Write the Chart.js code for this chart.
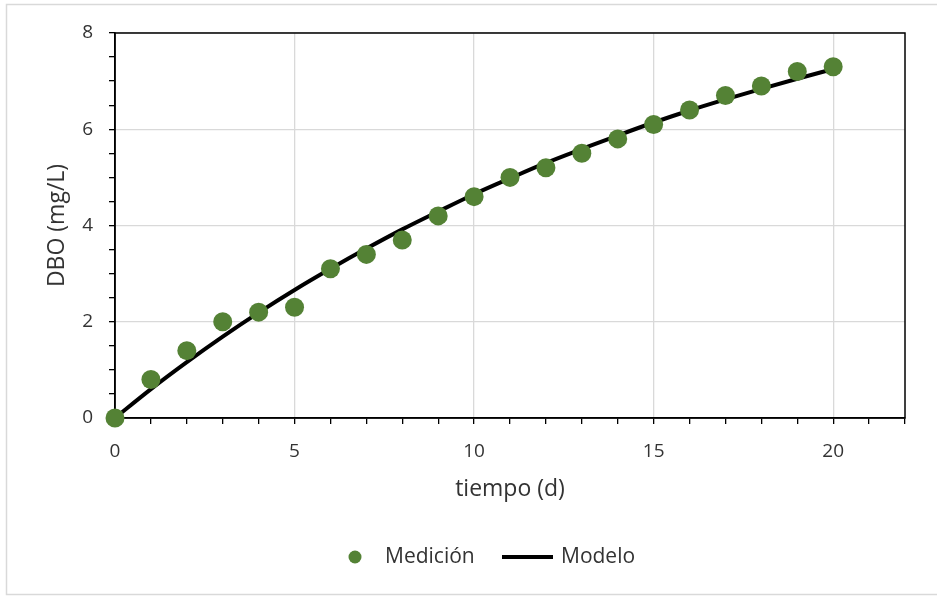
<!DOCTYPE html>
<html>
<head>
<meta charset="utf-8">
<script src="https://cdn.jsdelivr.net/npm/chart.js@4/dist/chart.umd.min.js"></script>
<style>
  html, body { margin: 0; padding: 0; background: #fff; }
  #wrap { width: 937px; height: 597px; }
</style>
</head>
<body>
<div id="wrap"><canvas id="dboChart" width="937" height="597"></canvas></div>
<script>
// Datos: días y DBO medida / modelada (mg/L)
const tiempo = [0, 1, 2, 3, 4, 5, 6, 7, 8, 9, 10, 11, 12, 13, 14, 15, 16, 17, 18, 19, 20];
const medicion = [0, 0.8, 1.4, 2.0, 2.2, 2.3, 3.1, 3.4, 3.7, 4.2, 4.6, 5.0, 5.2, 5.5, 5.8, 6.1, 6.4, 6.7, 6.9, 7.2, 7.3];
const modelo = [0, 0.6, 1.16, 1.69, 2.19, 2.66, 3.1, 3.52, 3.92, 4.29, 4.65, 4.98, 5.3, 5.59, 5.87, 6.14, 6.39, 6.62, 6.84, 7.05, 7.25];
const xLabels = [0, 5, 10, 15, 20];
const yLabels = [0, 2, 4, 6, 8];

const verde = '#548235';
const textColor = '#333333';
const fontFamily = '"Open Sans", "DejaVu Sans", sans-serif';

// Outer chart border (light grey)
const outerBorder = {
    id: 'outerBorder',
    beforeDraw(chart) {
        const ctx = chart.ctx;
        ctx.save();
        ctx.strokeStyle = '#d9d9d9';
        ctx.lineWidth = 1.5;
        ctx.strokeRect(6.5, 4.5, 945, 590);
        ctx.restore();
    }
};

// Black box round the plot area
const plotFrame = {
    id: 'plotFrame',
    beforeDatasetsDraw(chart) {
        const {ctx, chartArea: a} = chart;
        ctx.save();
        ctx.strokeStyle = '#000';
        ctx.lineWidth = 1.5;
        ctx.strokeRect(a.left, a.top, a.right - a.left, a.bottom - a.top);
        ctx.restore();
    }
};

// Legend at the bottom: marker for the points, line sample for the model
const bottomLegend = {
    id: 'bottomLegend',
    afterDraw(chart) {
        const ctx = chart.ctx;
        const y = 557;
        ctx.save();
        ctx.font = '21px ' + fontFamily;
        ctx.textBaseline = 'middle';
        ctx.textAlign = 'left';

        ctx.beginPath();
        ctx.arc(355, y, 6.5, 0, Math.PI * 2);
        ctx.fillStyle = verde;
        ctx.fill();
        ctx.fillStyle = textColor;
        ctx.fillText(chart.data.datasets[0].label, 385, y);

        ctx.beginPath();
        ctx.moveTo(502, y);
        ctx.lineTo(553, y);
        ctx.strokeStyle = '#000';
        ctx.lineWidth = 4;
        ctx.stroke();
        ctx.fillText(chart.data.datasets[1].label, 561, y);
        ctx.restore();
    }
};

const ctxDbo = document.getElementById('dboChart').getContext('2d');
const dboChart = new Chart(ctxDbo, {
    type: 'scatter',
    data: {
        datasets: [{
            label: 'Medición',
            data: tiempo.map((t, i) => ({x: t, y: medicion[i]})),
            backgroundColor: verde,
            borderColor: verde,
            pointRadius: 9.5,
            pointHoverRadius: 9.5,
            borderWidth: 0,
            clip: false,
            order: 0
        }, {
            label: 'Modelo',
            data: tiempo.map((t, i) => ({x: t, y: modelo[i]})),
            showLine: true,
            borderColor: '#000',
            borderWidth: 4,
            pointRadius: 0,
            cubicInterpolationMode: 'monotone',
            order: 1
        }]
    },
    options: {
        responsive: false,
        animation: false,
        layout: {
            padding: { top: 33, right: 32, bottom: 78, left: 0 }
        },
        scales: {
            x: {
                type: 'linear',
                min: 0,
                max: 22,
                afterFit: scale => { scale.height = 101; },
                border: { color: '#000', width: 1.5 },
                grid: {
                    color: c => (c.tick && xLabels.includes(c.tick.value)) ? '#d9d9d9' : 'rgba(0,0,0,0)',
                    lineWidth: 1.3,
                    tickColor: '#000',
                    tickWidth: 1.3,
                    tickLength: 6
                },
                ticks: {
                    stepSize: 1,
                    autoSkip: false,
                    maxRotation: 0,
                    padding: 16,
                    color: textColor,
                    font: { family: fontFamily, size: 19 },
                    callback: v => xLabels.includes(v) ? v : ''
                },
                title: {
                    display: true,
                    text: 'tiempo (d)',
                    color: textColor,
                    font: { family: fontFamily, size: 23 },
                    padding: { top: 0, bottom: 16 }
                }
            },
            y: {
                min: 0,
                max: 8,
                afterFit: scale => { scale.width = 115; },
                border: { color: '#000', width: 1.5 },
                grid: {
                    color: c => (c.tick && yLabels.includes(c.tick.value)) ? '#d9d9d9' : 'rgba(0,0,0,0)',
                    lineWidth: 1.3,
                    tickColor: '#000',
                    tickWidth: 1.3,
                    tickLength: 6
                },
                ticks: {
                    stepSize: 0.5,
                    autoSkip: false,
                    padding: 16,
                    color: textColor,
                    font: { family: fontFamily, size: 19 },
                    callback: v => yLabels.includes(v) ? v : ''
                },
                title: {
                    display: true,
                    text: 'DBO (mg/L)',
                    color: textColor,
                    font: { family: fontFamily, size: 23 },
                    padding: { top: 44, bottom: 0 }
                }
            }
        },
        plugins: {
            legend: { display: false },
            tooltip: { enabled: false }
        }
    },
    plugins: [outerBorder, plotFrame, bottomLegend]
});
</script>
</body>
</html>
